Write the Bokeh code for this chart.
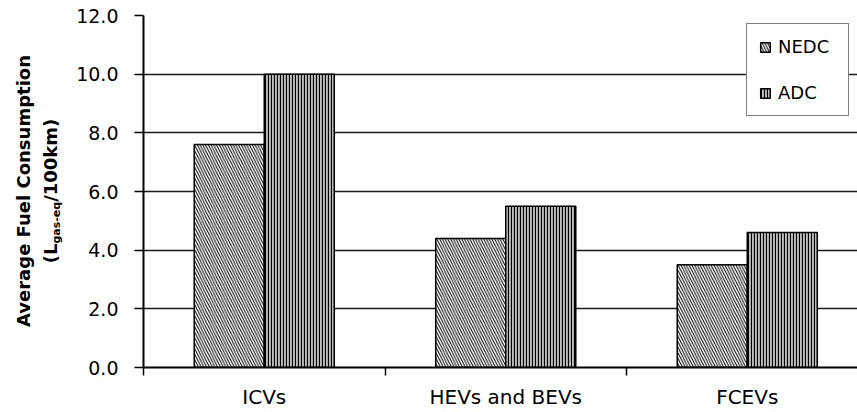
import numpy as np
from bokeh.plotting import figure
from bokeh.models import ColumnDataSource, Range1d, FixedTicker, Legend, LegendItem, Div
from bokeh.layouts import row
from bokeh.transform import dodge
from bokeh.embed import file_html
from bokeh.resources import INLINE

# ---- data ----
categories = ["ICVs", "HEVs and BEVs", "FCEVs"]
nedc = [7.6, 4.4, 3.5]
adc = [10.0, 5.5, 4.6]
series_names = ["NEDC", "ADC"]
y_ticks = [0, 2, 4, 6, 8, 10, 12]
y_tick_labels = ["0.0", "2.0", "4.0", "6.0", "8.0", "10.0", "12.0"]
y_title_1 = "Average Fuel Consumption"
y_title_2 = ("(L", "gas-eq", "/100km)")

FONT = "DejaVu Sans"
centers = np.arange(len(categories)) + 0.5
bounds = list(range(len(categories) + 1))

src = ColumnDataSource(dict(x=centers, nedc=nedc, adc=adc))

TITLE_W = 65
p = figure(width=857 - TITLE_W, height=412,
           x_range=Range1d(0, 2.9565), y_range=Range1d(0, 12),
           output_backend="svg", toolbar_location=None,
           min_border_left=143 - TITLE_W, min_border_right=0,
           min_border_top=15, min_border_bottom=45, margin=0)
p.outline_line_color = None
p.background_fill_color = "white"

bw = 0.29
r1 = p.vbar(x=dodge("x", -bw / 2, range=p.x_range), top="nedc", width=bw, source=src,
            fill_color="white", line_color="black", line_width=1.5,
            hatch_pattern="\\", hatch_color="black", hatch_scale=5.5, hatch_weight=1.0)
r2 = p.vbar(x=dodge("x", bw / 2, range=p.x_range), top="adc", width=bw, source=src,
            fill_color="#bdbdbd", line_color="black", line_width=1.5,
            hatch_pattern="|", hatch_color="black", hatch_scale=3, hatch_weight=1.2)

# x axis: labels at centres, tick marks at boundaries
xa = p.xaxis[0]
xa.ticker = FixedTicker(ticks=list(centers), minor_ticks=bounds)
xa.major_label_overrides = {float(c): n for c, n in zip(centers, categories)}
xa.major_tick_line_color = None
xa.major_tick_out = 8
xa.major_tick_in = 0
xa.minor_tick_line_color = "black"
xa.minor_tick_line_width = 1.5
xa.minor_tick_out = 8
xa.minor_tick_in = 0
xa.axis_line_color = "black"
xa.axis_line_width = 2
xa.major_label_text_font = FONT
xa.major_label_text_font_size = "20px"
xa.major_label_text_color = "black"
xa.major_label_standoff = 9

ya = p.yaxis[0]
ya.ticker = FixedTicker(ticks=y_ticks)
ya.major_label_overrides = {t: l for t, l in zip(y_ticks, y_tick_labels)}
ya.major_tick_line_color = "black"
ya.major_tick_line_width = 1.5
ya.major_tick_out = 9
ya.major_tick_in = 0
ya.minor_tick_line_color = None
ya.axis_line_color = "black"
ya.axis_line_width = 2
ya.major_label_text_font = FONT
ya.major_label_text_font_size = "19px"
ya.major_label_text_color = "black"
ya.major_label_standoff = 16

p.xgrid.grid_line_color = None
p.ygrid.ticker = FixedTicker(ticks=y_ticks)
p.ygrid.grid_line_color = "black"
p.ygrid.grid_line_width = 1.5
p.ygrid.grid_line_alpha = 0.9

legend = Legend(items=[LegendItem(label=series_names[0], renderers=[r1]),
                       LegendItem(label=series_names[1], renderers=[r2])],
                location="top_right", margin=8, padding=12, spacing=25,
                glyph_width=12, glyph_height=12, label_height=20, label_width=58,
                label_standoff=7,
                label_text_font=FONT, label_text_font_size="18px", label_text_color="black",
                border_line_color="black", border_line_width=1.5,
                background_fill_color="white", background_fill_alpha=1.0)
p.add_layout(legend)

# rotated two-line y-axis title with a real subscript
html = (
    f'<div style="position:relative;width:{TITLE_W}px;height:412px;">'
    '<div style="position:absolute;left:38px;top:191px;'
    'transform:translate(-50%,-50%) rotate(-90deg);white-space:nowrap;text-align:center;'
    f"font-family:'{FONT}';font-weight:bold;font-size:18px;line-height:27px;color:black;\">"
    f'{y_title_1}<br>{y_title_2[0]}'
    f'<span style="font-size:11px;position:relative;top:3px;">{y_title_2[1]}</span>'
    f'{y_title_2[2]}</div></div>'
)
title_div = Div(text=html, width=TITLE_W, height=412, margin=0,
                styles={"overflow": "visible"})

layout = row(title_div, p, spacing=0)
open("out.html", "w").write(file_html(layout, INLINE))
